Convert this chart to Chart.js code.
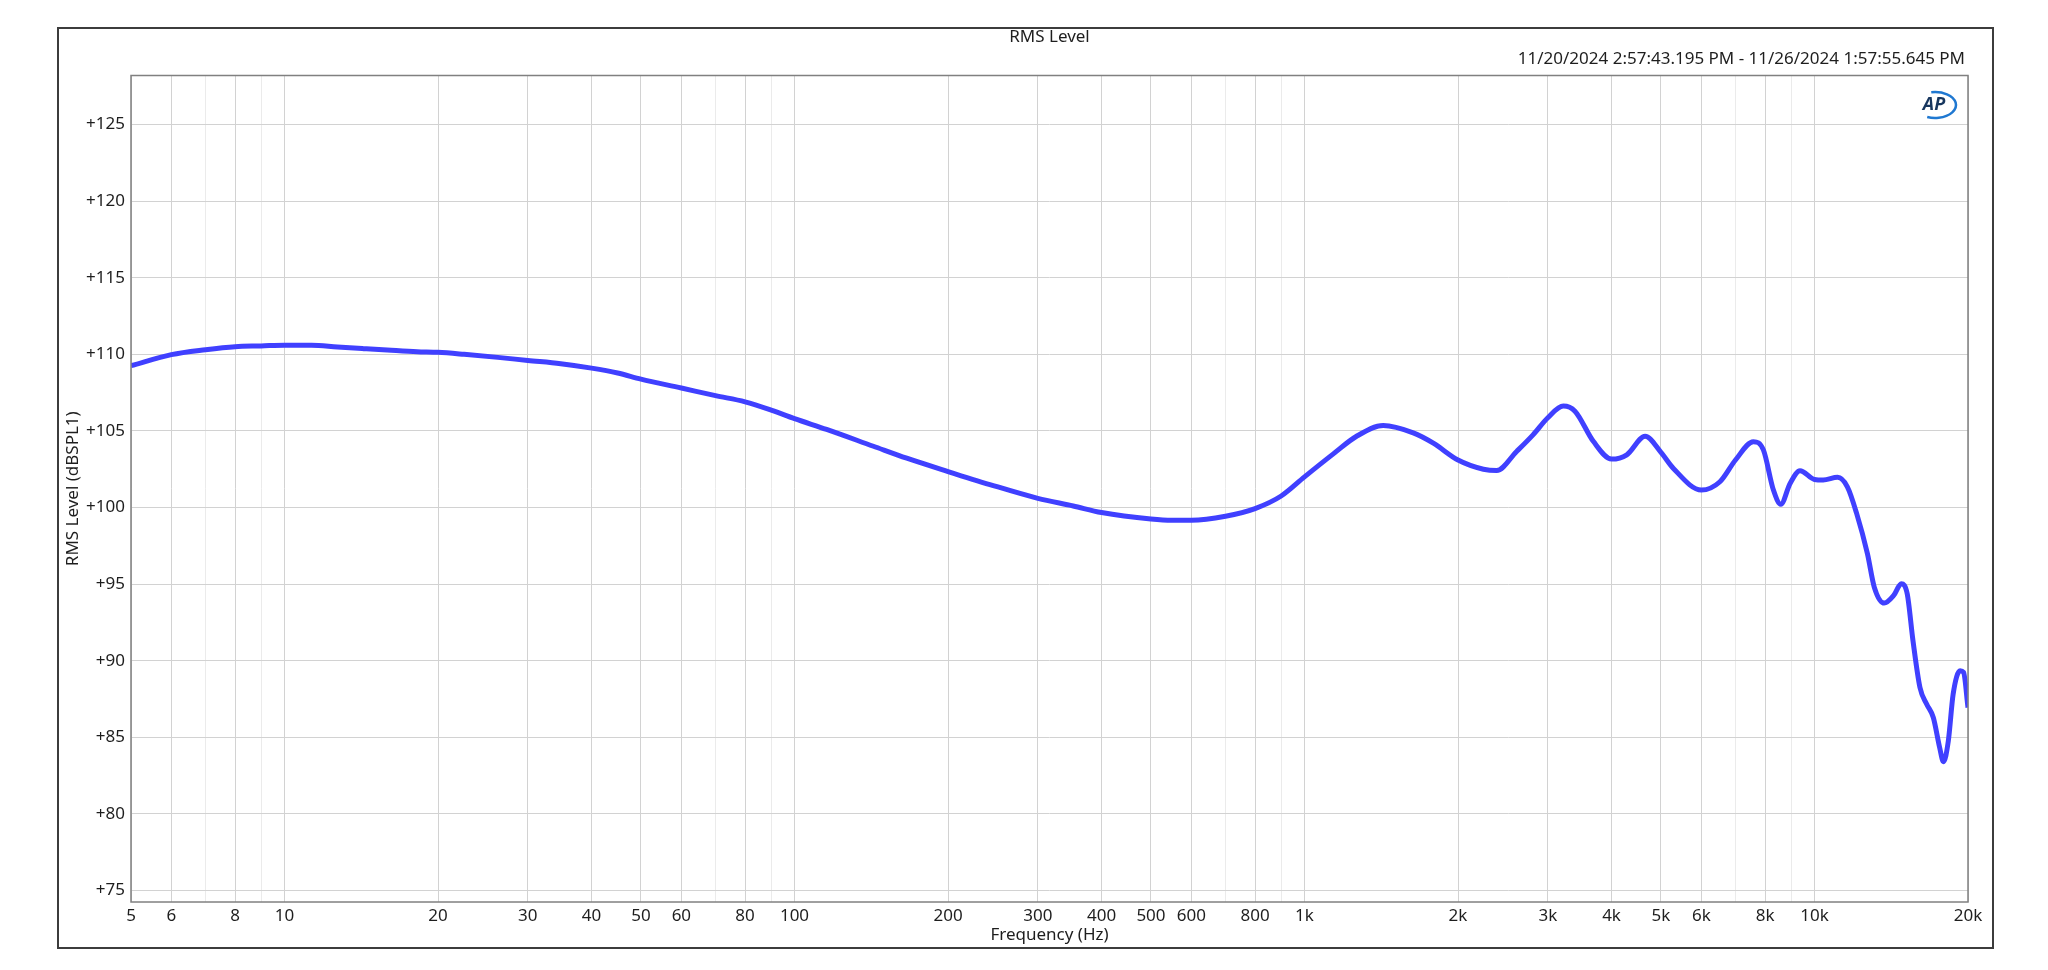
<!DOCTYPE html>
<html>
<head>
<meta charset="utf-8">
<title>RMS Level</title>
<script src="https://cdn.jsdelivr.net/npm/chart.js@4.4.1/dist/chart.umd.min.js"></script>
<style>
	html, body { margin: 0; padding: 0; background: #fff; overflow: hidden; }
	#box { width: 2048px; height: 970px; }
</style>
</head>
<body>
<div id="box"><canvas id="rms_chart" width="2048" height="970"></canvas></div>
<script>
// Frequency points (Hz)
const freqHz = [5, 6, 7, 8, 9, 10, 11.3, 12.7, 14.3, 16.2, 18.2, 20, 22.5, 26.2, 30, 34.8, 40, 45,
	50, 60, 70, 80, 90, 100, 115.6, 142.8, 166, 200, 241.6, 300, 352, 400, 500, 550, 600, 700,
	800, 900, 1000, 1139, 1265, 1427, 1634, 1789, 2000, 2243, 2381, 2606, 2809, 3000, 3218, 3391,
	3684, 4000, 4285, 4655, 5000, 5290, 6000, 6525, 7000, 7589, 7940, 8308, 8590, 8957, 9367,
	10000, 10400, 11100, 11600, 12100, 12700, 13100, 13700, 14300, 14800, 15200, 15600, 16100,
	16600, 17100, 17600, 17900, 18300, 18700, 19300, 19600, 20000]

// RMS level (dBSPL1) at each frequency
const rmsLevel = [109.26, 109.98, 110.3, 110.5, 110.55, 110.6, 110.6, 110.48, 110.37, 110.26, 110.17, 110.13, 110.0, 109.8, 109.6, 109.39, 109.1, 108.78,
	108.38, 107.8, 107.3, 106.9, 106.36, 105.8, 105.1, 104.0, 103.22, 102.35, 101.5, 100.6, 100.1, 99.67, 99.25, 99.17, 99.17, 99.43,
	99.93, 100.75, 102.0, 103.5, 104.65, 105.35, 104.87, 104.2, 103.1, 102.5, 102.41, 103.66, 104.76, 105.86, 106.62, 106.29,
	104.32, 103.16, 103.44, 104.65, 103.6, 102.55, 101.14, 101.68, 103.1, 104.3, 103.76, 101.14, 100.22, 101.57, 102.4,
	101.83, 101.79, 101.97, 101.35, 99.6, 96.99, 94.8, 93.76, 94.26, 95.02, 94.37, 91.31, 88.25,
	87.16, 86.29, 84.32, 83.41, 84.76, 87.8, 89.34, 89.24, 86.94]

// Axis ticks
const xTickValues = [5, 6, 7, 8, 9, 10, 20, 30, 40, 50, 60, 70, 80, 90, 100, 200, 300, 400, 500, 600, 700, 800, 900,
	1000, 2000, 3000, 4000, 5000, 6000, 7000, 8000, 9000, 10000, 20000]
const xTickLabels = ['5', '6', '', '8', '', '10', '20', '30', '40', '50', '60', '', '80', '', '100', '200', '300', '400', '500', '600', '', '800', '',
	'1k', '2k', '3k', '4k', '5k', '6k', '', '8k', '', '10k', '20k']
const yTickValues = [75, 80, 85, 90, 95, 100, 105, 110, 115, 120, 125]

const chartTitle = 'RMS Level'
const dateRange = '11/20/2024 2:57:43.195 PM - 11/26/2024 1:57:55.645 PM'
const xTitle = 'Frequency (Hz)'
const yTitle = 'RMS Level (dBSPL1)'

const textColor = '#1e1e1e'
Chart.defaults.font.family = '"Noto Sans", "Open Sans", sans-serif'
Chart.defaults.font.size = 17
Chart.defaults.color = textColor

// Frame, titles, timestamp and logo
const decorations = {
	id: 'decorations',
	afterDraw(chart) {
		const ctx = chart.ctx
		const a = chart.chartArea
		const cx = (a.left + a.right) / 2

		ctx.save()
		ctx.strokeStyle = '#808080'
		ctx.lineWidth = 1.5
		ctx.strokeRect(a.left, a.top, a.right - a.left, a.bottom - a.top)

		ctx.strokeStyle = '#3c3c3c'
		ctx.lineWidth = 2
		ctx.strokeRect(58, 28, 1935, 920)

		ctx.fillStyle = textColor
		ctx.font = '17px "Noto Sans"'
		ctx.textBaseline = 'middle'
		ctx.textAlign = 'center'
		ctx.fillText(chartTitle, cx, 37)
		ctx.fillText(xTitle, cx, 935)
		ctx.textAlign = 'right'
		ctx.fillText(dateRange, a.right - 3, 59)

		// AP logo
		ctx.textAlign = 'center'
		ctx.font = 'italic bold 18px "Noto Sans"'
		ctx.fillStyle = '#17365e'
		ctx.fillText('AP', 1934, 105)
		ctx.strokeStyle = '#1f78d1'
		ctx.lineWidth = 2.5
		ctx.beginPath()
		ctx.ellipse(1935, 105, 21, 13, 0, -1.75, 1.95)
		ctx.stroke()

		ctx.fillStyle = textColor
		ctx.font = '17px "Noto Sans"'
		ctx.translate(73, (a.top + a.bottom) / 2)
		ctx.rotate(-Math.PI / 2)
		ctx.fillText(yTitle, 0, 0)
		ctx.restore()
	}
}

const ctx = document.getElementById('rms_chart')
const chart = new Chart(ctx, {
	type: 'line',
	data: {
		datasets: [{
			data: freqHz.map((f, i) => ({ x: f, y: rmsLevel[i] })),
			borderColor: 'rgb(64, 64, 255)',
			borderWidth: 5,
			pointRadius: 0,
			cubicInterpolationMode: 'monotone',
			fill: false
		}]
	},
	options: {
		responsive: false,
		animation: false,
		devicePixelRatio: 1,
		layout: { padding: { left: 0, top: 75.5, right: 80, bottom: 0 } },
		plugins: {
			legend: { display: false },
			tooltip: { enabled: false }
		},
		scales: {
			x: {
				type: 'logarithmic',
				min: 5,
				max: 20000,
				afterBuildTicks: s => { s.ticks = xTickValues.map(v => ({ value: v })) },
				afterFit: s => { s.height = 68 },
				ticks: {
					autoSkip: false,
					maxRotation: 0,
					padding: 4,
					color: textColor,
					callback: (v, i) => xTickLabels[i]
				},
				grid: {
					drawTicks: false,
					color: c => xTickLabels[c.index] === '' ? '#ebebeb' : '#d2d2d2',
					lineWidth: 1
				},
				border: { display: false }
			},
			y: {
				type: 'linear',
				min: 74.25,
				max: 128.2,
				afterBuildTicks: s => { s.ticks = yTickValues.map(v => ({ value: v })) },
				afterFit: s => { s.width = 131 },
				ticks: {
					padding: 6,
					color: textColor,
					callback: v => '+' + v
				},
				grid: {
					drawTicks: false,
					color: '#d2d2d2',
					lineWidth: 1
				},
				border: { display: false }
			}
		}
	},
	plugins: [decorations]
})
</script>
</body>
</html>
